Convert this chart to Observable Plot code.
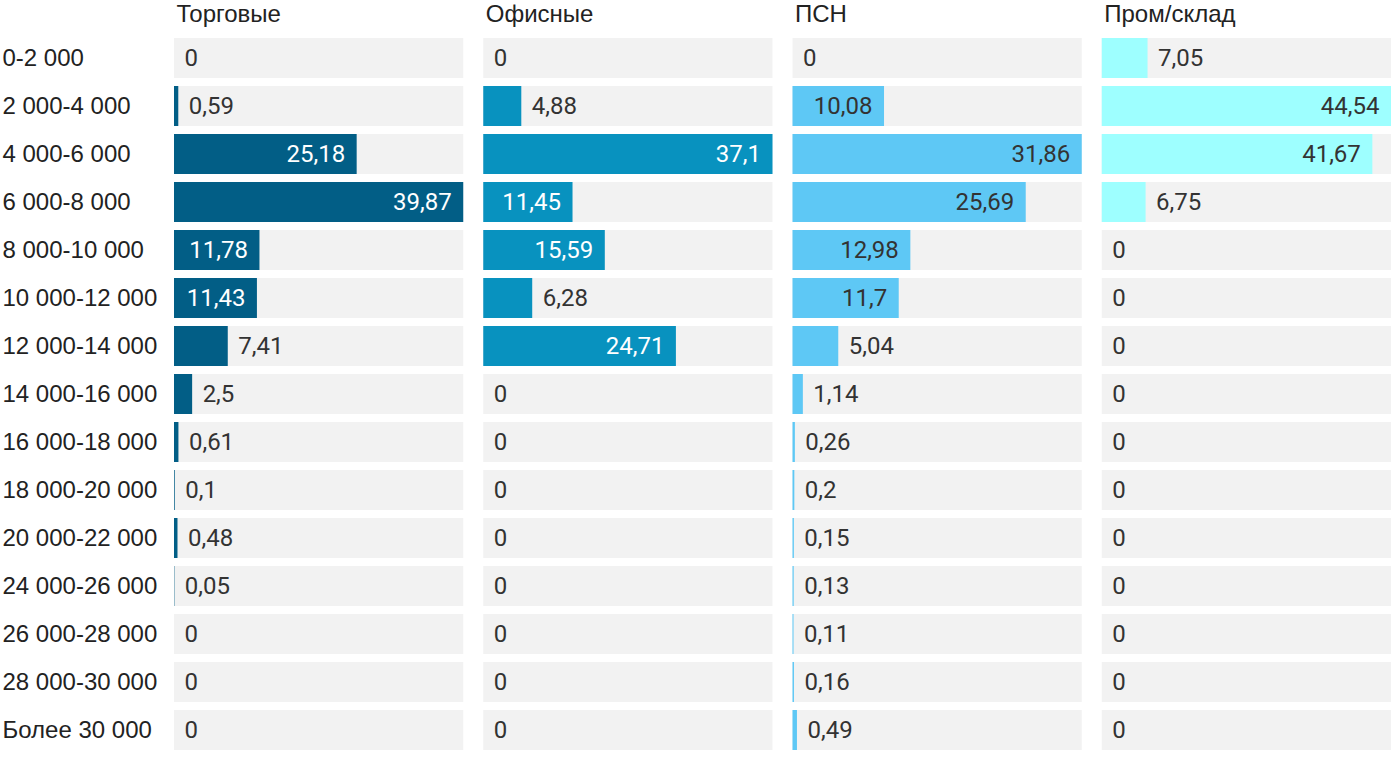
<!DOCTYPE html>
<html>
<head>
<meta charset="utf-8">
<script src="https://cdn.jsdelivr.net/npm/d3@7"></script>
<script src="https://cdn.jsdelivr.net/npm/@observablehq/plot@0.6"></script>
<style>
  html, body { margin: 0; padding: 0; background: #fff; }
  svg { overflow: visible; }
</style>
</head>
<body>
<div id="chart"></div>
<script>
const categories = ["0-2 000","2 000-4 000","4 000-6 000","6 000-8 000","8 000-10 000","10 000-12 000","12 000-14 000","14 000-16 000","16 000-18 000","18 000-20 000","20 000-22 000","24 000-26 000","26 000-28 000","28 000-30 000","Более 30 000"];
const sectors = ["Торговые","Офисные","ПСН","Пром/склад"];
const torgovye = [0,0.59,25.18,39.87,11.78,11.43,7.41,2.5,0.61,0.1,0.48,0.05,0,0,0];
const ofisnye = [0,4.88,37.1,11.45,15.59,6.28,24.71,0,0,0,0,0,0,0,0];
const psn = [0,10.08,31.86,25.69,12.98,11.7,5.04,1.14,0.26,0.2,0.15,0.13,0.11,0.16,0.49];
const prom = [7.05,44.54,41.67,6.75,0,0,0,0,0,0,0,0,0,0,0];
const colors = ["#025e86","#0892bf","#5ec8f5","#9effff"];
const lightText = [true, true, false, false];

const series = [torgovye, ofisnye, psn, prom];
const data = [];
sectors.forEach((s, i) => {
  const vals = series[i];
  const max = d3.max(vals);
  vals.forEach((v, j) => {
    data.push({sector: s, cat: categories[j], value: v, frac: v / max, light: lightText[i]});
  });
});
const fmt = d => String(d.value).replace(".", ",");
const inside = d => d.frac > 0.23;

const chart = Plot.plot({
  width: 1400,
  height: 766,
  marginLeft: 174,
  marginRight: 9,
  marginTop: 30,
  marginBottom: 8,
  style: {fontFamily: "'Liberation Sans', Arial, sans-serif", fontSize: "24px", color: "#222", background: "#fff"},
  fx: {domain: sectors, paddingInner: 20 / 309, paddingOuter: 0, round: false, axis: null},
  x: {domain: [0, 1], axis: null},
  y: {domain: categories, padding: 1 / 6, round: false},
  color: {domain: sectors, range: colors},
  marks: [
    Plot.barX(data, {fx: "sector", y: "cat", x1: 0, x2: 1, fill: "#f2f2f2"}),
    Plot.barX(data, {fx: "sector", y: "cat", x1: 0, x2: "frac", fill: "sector"}),
    Plot.text(data.filter(d => !inside(d)), {fx: "sector", y: "cat", x: "frac", text: fmt, textAnchor: "start", dx: 10, fill: "#333", fontFamily: "Roboto", fontSize: 24}),
    Plot.text(data.filter(d => inside(d) && d.light), {fx: "sector", y: "cat", x: "frac", text: fmt, textAnchor: "end", dx: -12, fill: "#fff", fontFamily: "Roboto", fontSize: 24}),
    Plot.text(data.filter(d => inside(d) && !d.light), {fx: "sector", y: "cat", x: "frac", text: fmt, textAnchor: "end", dx: -12, fill: "#333", fontFamily: "Roboto", fontSize: 24}),
    Plot.text(sectors, {fx: d => d, text: d => d, frameAnchor: "top-left", textAnchor: "start", lineAnchor: "middle", dx: 2, dy: -16, fill: "#222", fontSize: 24}),
    Plot.axisY({tickSize: 0, tickPadding: 0, textAnchor: "start", dx: -172, fill: "#222", fontSize: 24, fontFamily: "'Liberation Sans', Arial, sans-serif", label: null})
  ]
});
document.getElementById("chart").appendChild(chart);
</script>
</body>
</html>
